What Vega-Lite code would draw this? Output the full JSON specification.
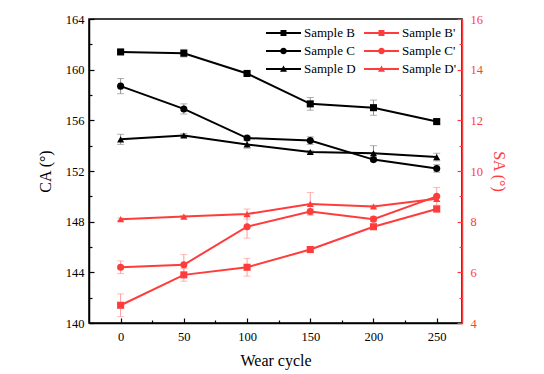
{
  "$schema": "https://vega.github.io/schema/vega-lite/v6.json",
  "width": 373,
  "height": 304,
  "autosize": "none",
  "padding": {"left": 89, "top": 19, "right": 82, "bottom": 51},
  "background": "white",
  "config": {
    "view": {"stroke": "black", "strokeWidth": 1.5},
    "font": "Liberation Serif",
    "axis": {
      "labelFont": "Liberation Serif",
      "titleFont": "Liberation Serif",
      "labelFontSize": 12.5,
      "titleFontSize": 16,
      "titleFontWeight": "normal",
      "grid": false,
      "domainWidth": 1.5,
      "tickWidth": 1.2
    }
  },
  "data": {
    "values": [
      {"cycle": 0, "series": "Sample B", "sample": "B", "metric": "CA", "value": 161.4, "err": 0.15},
      {"cycle": 50, "series": "Sample B", "sample": "B", "metric": "CA", "value": 161.3, "err": 0.3},
      {"cycle": 100, "series": "Sample B", "sample": "B", "metric": "CA", "value": 159.7, "err": 0.1},
      {"cycle": 150, "series": "Sample B", "sample": "B", "metric": "CA", "value": 157.3, "err": 0.5},
      {"cycle": 200, "series": "Sample B", "sample": "B", "metric": "CA", "value": 157.0, "err": 0.6},
      {"cycle": 250, "series": "Sample B", "sample": "B", "metric": "CA", "value": 155.9, "err": 0.2},
      {"cycle": 0, "series": "Sample C", "sample": "C", "metric": "CA", "value": 158.7, "err": 0.6},
      {"cycle": 50, "series": "Sample C", "sample": "C", "metric": "CA", "value": 156.9, "err": 0.4},
      {"cycle": 100, "series": "Sample C", "sample": "C", "metric": "CA", "value": 154.6, "err": 0.15},
      {"cycle": 150, "series": "Sample C", "sample": "C", "metric": "CA", "value": 154.4, "err": 0.3},
      {"cycle": 200, "series": "Sample C", "sample": "C", "metric": "CA", "value": 152.9, "err": 0.15},
      {"cycle": 250, "series": "Sample C", "sample": "C", "metric": "CA", "value": 152.2, "err": 0.3},
      {"cycle": 0, "series": "Sample D", "sample": "D", "metric": "CA", "value": 154.5, "err": 0.4},
      {"cycle": 50, "series": "Sample D", "sample": "D", "metric": "CA", "value": 154.8, "err": 0.15},
      {"cycle": 100, "series": "Sample D", "sample": "D", "metric": "CA", "value": 154.1, "err": 0.3},
      {"cycle": 150, "series": "Sample D", "sample": "D", "metric": "CA", "value": 153.5, "err": 0.1},
      {"cycle": 200, "series": "Sample D", "sample": "D", "metric": "CA", "value": 153.4, "err": 0.6},
      {"cycle": 250, "series": "Sample D", "sample": "D", "metric": "CA", "value": 153.1, "err": 0.3},
      {"cycle": 0, "series": "Sample B'", "sample": "B", "metric": "SA", "value": 4.7, "err": 0.45},
      {"cycle": 50, "series": "Sample B'", "sample": "B", "metric": "SA", "value": 5.9, "err": 0.25},
      {"cycle": 100, "series": "Sample B'", "sample": "B", "metric": "SA", "value": 6.2, "err": 0.35},
      {"cycle": 150, "series": "Sample B'", "sample": "B", "metric": "SA", "value": 6.9, "err": 0.12},
      {"cycle": 200, "series": "Sample B'", "sample": "B", "metric": "SA", "value": 7.8, "err": 0.1},
      {"cycle": 250, "series": "Sample B'", "sample": "B", "metric": "SA", "value": 8.5, "err": 0.12},
      {"cycle": 0, "series": "Sample C'", "sample": "C", "metric": "SA", "value": 6.2, "err": 0.25},
      {"cycle": 50, "series": "Sample C'", "sample": "C", "metric": "SA", "value": 6.3, "err": 0.4},
      {"cycle": 100, "series": "Sample C'", "sample": "C", "metric": "SA", "value": 7.8, "err": 0.45},
      {"cycle": 150, "series": "Sample C'", "sample": "C", "metric": "SA", "value": 8.4, "err": 0.1},
      {"cycle": 200, "series": "Sample C'", "sample": "C", "metric": "SA", "value": 8.1, "err": 0.1},
      {"cycle": 250, "series": "Sample C'", "sample": "C", "metric": "SA", "value": 9.0, "err": 0.35},
      {"cycle": 0, "series": "Sample D'", "sample": "D", "metric": "SA", "value": 8.1, "err": 0.05},
      {"cycle": 50, "series": "Sample D'", "sample": "D", "metric": "SA", "value": 8.2, "err": 0.05},
      {"cycle": 100, "series": "Sample D'", "sample": "D", "metric": "SA", "value": 8.3, "err": 0.2},
      {"cycle": 150, "series": "Sample D'", "sample": "D", "metric": "SA", "value": 8.7, "err": 0.45},
      {"cycle": 200, "series": "Sample D'", "sample": "D", "metric": "SA", "value": 8.6, "err": 0.05},
      {"cycle": 250, "series": "Sample D'", "sample": "D", "metric": "SA", "value": 8.9, "err": 0.1}
    ]
  },
  "encoding": {
    "x": {
      "field": "cycle",
      "type": "quantitative",
      "scale": {"domain": [-25, 270], "nice": false, "zero": false},
      "axis": {
        "title": "Wear cycle",
        "values": [0, 25, 50, 75, 100, 125, 150, 175, 200, 225, 250],
        "labelExpr": "datum.value % 50 === 0 ? datum.label : ''",
        "tickSize": {"condition": {"test": "datum.value % 50 === 0", "value": -5}, "value": -3},
        "labelPadding": 12,
        "titlePadding": 10,
        "domainColor": "black",
        "tickColor": "black",
        "labelColor": "black",
        "titleColor": "black"
      }
    }
  },
  "layer": [
    {
      "transform": [{"filter": "datum.metric === 'CA'"}],
      "encoding": {
        "y": {
          "field": "value",
          "type": "quantitative",
          "scale": {"domain": [140, 164], "nice": false, "zero": false},
          "axis": {
            "title": "CA (°)",
            "orient": "left",
            "values": [140, 142, 144, 146, 148, 150, 152, 154, 156, 158, 160, 162, 164],
            "labelExpr": "datum.value % 4 === 0 ? datum.label : ''",
            "tickSize": {"condition": {"test": "datum.value % 4 === 0", "value": -5}, "value": -3},
            "labelPadding": 10,
            "titlePadding": 12,
            "domainColor": "black",
            "tickColor": "black",
            "labelColor": "black",
            "titleColor": "black"
          }
        }
      },
      "layer": [
        {
          "mark": {"type": "errorbar", "ticks": {"size": 7}, "color": "#8f8f8f", "thickness": 1},
          "encoding": {
            "y": {"field": "value", "type": "quantitative"},
            "yError": {"field": "err"}
          }
        },
        {
          "mark": {"type": "line", "strokeWidth": 2},
          "encoding": {
            "color": {
              "field": "series",
              "type": "nominal",
              "scale": {
                "domain": ["Sample B", "Sample C", "Sample D", "Sample B'", "Sample C'", "Sample D'"],
                "range": ["black", "black", "black", "#ff3c3c", "#ff3c3c", "#ff3c3c"]
              },
              "legend": {
                "title": null,
                "orient": "none",
                "legendX": 177,
                "legendY": 6,
                "columns": 2,
                "labelFont": "Liberation Serif",
                "labelFontSize": 13,
                "labelColor": "black",
                "symbolSize": 1225,
                "clipHeight": 16,
                "labelOffset": 3,
                "columnPadding": 8,
                "rowPadding": 2,
                "encode": {
                  "symbols": {
                    "update": {
                      "shape": {"signal": "substring(datum.value, 7, 8) === 'B' ? 'M-1,-0.06H1V0.06H-1Z M-0.17,-0.17H0.17V0.17H-0.17Z' : (substring(datum.value, 7, 8) === 'C' ? 'M-1,-0.06H1V0.06H-1Z M0.19,0 A0.19,0.19 0 1,1 -0.19,0 A0.19,0.19 0 1,1 0.19,0Z' : 'M-1,-0.06H1V0.06H-1Z M0,-0.2L0.2,0.15H-0.2Z')"},
                      "fill": {"scale": "color", "field": "value"},
                      "fillOpacity": {"value": 1},
                      "strokeWidth": {"value": 0}
                    }
                  }
                }
              }
            }
          }
        },
        {
          "mark": {"type": "point", "filled": true, "size": 50, "opacity": 1},
          "encoding": {
            "color": {"field": "series", "type": "nominal"},
            "shape": {
              "field": "sample",
              "type": "nominal",
              "scale": {"domain": ["B", "C", "D"], "range": ["square", "circle", "triangle-up"]},
              "legend": null
            }
          }
        }
      ]
    },
    {
      "transform": [{"filter": "datum.metric === 'SA'"}],
      "encoding": {
        "y": {
          "field": "value",
          "type": "quantitative",
          "scale": {"domain": [4, 16], "nice": false, "zero": false},
          "axis": {
            "title": "SA (°)",
            "orient": "right",
            "values": [4, 5, 6, 7, 8, 9, 10, 11, 12, 13, 14, 15, 16],
            "labelExpr": "datum.value % 2 === 0 ? datum.label : ''",
            "tickSize": {"condition": {"test": "datum.value % 2 === 0", "value": -5}, "value": -3},
            "labelPadding": 13,
            "titlePadding": 8,
            "domainColor": "#ff3c3c",
            "tickColor": "#ff3c3c",
            "labelColor": "#ff3c3c",
            "titleColor": "#ff3c3c"
          }
        }
      },
      "layer": [
        {
          "mark": {"type": "errorbar", "ticks": {"size": 7}, "color": "#ff9c9c", "thickness": 1},
          "encoding": {
            "y": {"field": "value", "type": "quantitative"},
            "yError": {"field": "err"}
          }
        },
        {
          "mark": {"type": "line", "strokeWidth": 2},
          "encoding": {
            "color": {"field": "series", "type": "nominal"}
          }
        },
        {
          "mark": {"type": "point", "filled": true, "size": 50, "opacity": 1},
          "encoding": {
            "color": {"field": "series", "type": "nominal"},
            "shape": {"field": "sample", "type": "nominal", "legend": null}
          }
        }
      ]
    }
  ],
  "resolve": {"scale": {"y": "independent"}}
}
